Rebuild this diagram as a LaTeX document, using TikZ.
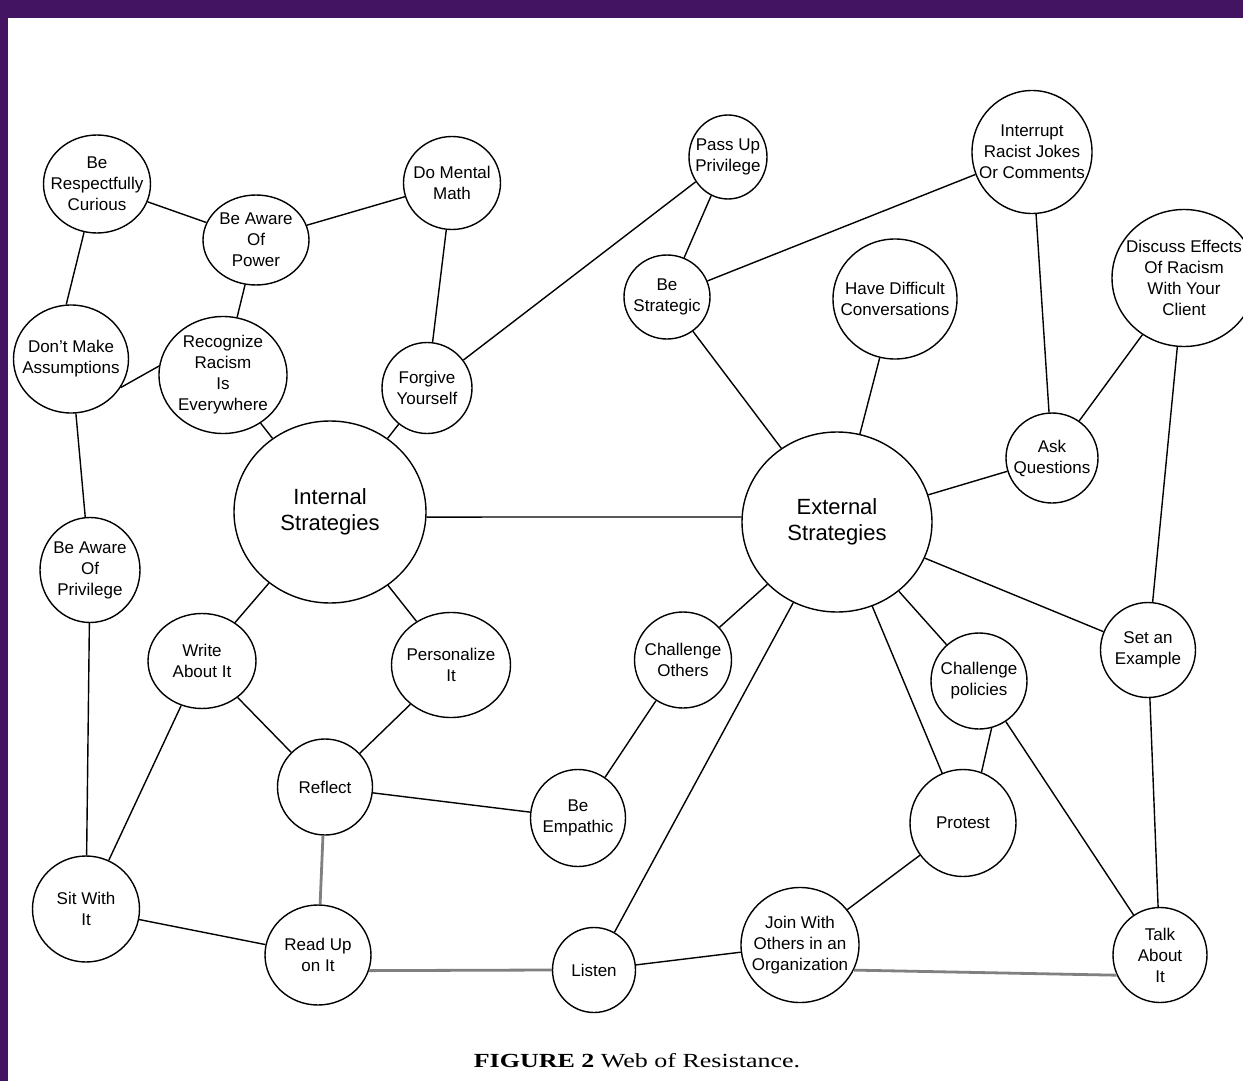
\documentclass[tikz,border=0pt]{standalone}
\usepackage{fontspec}
\setmainfont{Liberation Sans}
\newfontfamily\capfont{Liberation Serif}
\usetikzlibrary{shapes.geometric}
\definecolor{framepurple}{RGB}{66,20,98}
\tikzset{
  spot/.style 2 args={ellipse,draw,line width=0.7pt,inner xsep=-10pt,inner ysep=0pt,
    minimum width=#1*0.5pt,minimum height=#2*0.5pt,align=center,
    font=\fontsize{8.5}{10.5}\selectfont},
  hub/.style 2 args={spot={#1}{#2},font=\fontsize{11}{13}\selectfont},
  link/.style={line width=0.7pt},
  heavy/.style={line width=1.4pt,black!50}
}
\begin{document}
\begin{tikzpicture}[x=0.5pt,y=-0.5pt]
\useasboundingbox (0,0) rectangle (1243,1081);
\fill [framepurple] (0,0) rectangle (1243,18);
\fill [framepurple] (0,0) rectangle (8,1081);

% internal side
\node (brc) at (97,184) [spot={107}{98}] {Be\\Respectfully\\Curious};
\node (bap) at (256,240) [spot={106}{90}] {Be Aware\\Of\\Power};
\node (dmm) at (452,183) [spot={97}{93}] {Do Mental\\Math};
\node (dma) at (71,359) [spot={115}{108}] {Don't Make\\Assumptions};
\node (rre) at (223,375) [spot={128}{117}] {Recognize\\Racism\\Is\\Everywhere};
\node (fy) at (427,388) [spot={90}{91}] {Forgive\\Yourself};
\node (ins) at (330,512) [hub={192}{182}] {Internal\\Strategies};
\node (bapv) at (90,570) [spot={100}{105}] {Be Aware\\Of\\Privilege};
\node (wai) at (202,661) [spot={108}{95}] {Write\\About It};
\node (pi) at (451,665) [spot={119}{105}] {Personalize\\It};
\node (rfl) at (325,787) [spot={95}{96}] {Reflect};
\node (swi) at (86,909) [spot={107}{106}] {Sit With\\It};
\node (ruoi) at (318,955) [spot={106}{100}] {Read Up\\on It};

% external side
\node (pup) at (728,157) [spot={78}{84}] {Pass Up\\Privilege};
\node (irj) at (1032,152) [spot={120}{123}] {Interrupt\\Racist Jokes\\Or Comments};
\node (bs) at (667,297) [spot={86}{84}] {Be\\Strategic};
\node (hdc) at (895,299) [spot={124}{120}] {Have Difficult\\Conversations};
\node (derc) at (1184,278) [spot={144}{137}] {Discuss Effects\\Of Racism\\With Your\\Client};
\node (aq) at (1052,458) [spot={92}{90}] {Ask\\Questions};
\node (exs) at (837,522) [hub={190}{180}] {External\\Strategies};
\node (co) at (683,660) [spot={97}{96}] {Challenge\\Others};
\node (cp) at (979,681) [spot={96}{96}] {Challenge\\policies};
\node (sae) at (1148,650) [spot={95}{95}] {Set an\\Example};
\node (be) at (578,818) [spot={95}{97}] {Be\\Empathic};
\node (pro) at (963,823) [spot={106}{107}] {Protest};
\node (lis) at (594,970) [spot={83}{85}] {Listen};
\node (jwo) at (800,945) [spot={118}{115}] {Join With\\Others in an\\Organization};
\node (tai) at (1160,955) [spot={94}{95}] {Talk\\About\\It};

\draw [link] (brc) -- (bap);
\draw [link] (bap) -- (dmm);
\draw [link] (brc.-105) -- (dma.95);
\draw [link] (bap) -- (rre);
\draw [link] (dma.-30) -- (rre.172);
\draw [link] (dmm) -- (fy);
\draw [link] (rre) -- (ins);
\draw [link] (fy) -- (ins);
\draw [link] (fy) -- (pup);
\draw [link] (dma) -- (bapv);
\draw [link] (bapv) -- (swi);
\draw [link] (ins) -- (wai);
\draw [link] (ins) -- (pi);
\draw [link] (wai) -- (swi);
\draw [link] (wai) -- (rfl);
\draw [link] (pi) -- (rfl);
\draw [link] (rfl) -- (be);
\draw [link] (swi) -- (ruoi);
\draw [heavy] (rfl) -- (ruoi);
\draw [heavy] (ruoi.-17) -- (lis.west);

\draw [link] (ins.-3) -- (exs.177);
\draw [link] (pup) -- (bs);
\draw [link] (bs) -- (irj);
\draw [link] (bs) -- (exs);
\draw [link] (hdc) -- (exs);
\draw [link] (irj) -- (aq);
\draw [link] (derc) -- (aq);
\draw [link] (aq) -- (exs);
\draw [link] (derc) -- (sae);
\draw [link] (exs) -- (sae);
\draw [link] (exs) -- (cp);
\draw [link] (exs) -- (pro);
\draw [link] (exs) -- (lis);
\draw [link] (exs) -- (co);
\draw [link] (co) -- (be);
\draw [link] (cp.-75) -- (pro.70);
\draw [link] (cp) -- (tai);
\draw [link] (sae) -- (tai);
\draw [link] (pro) -- (jwo);
\draw [link] (lis) -- (jwo);
\draw [heavy] (jwo.-25) -- (tai.205);

\node (cap) at (637,1061) [font=\capfont\fontsize{10}{12}\selectfont] {\scalebox{1.3}[1]{\textbf{FIGURE 2} Web of Resistance.}};
\end{tikzpicture}
\end{document}
